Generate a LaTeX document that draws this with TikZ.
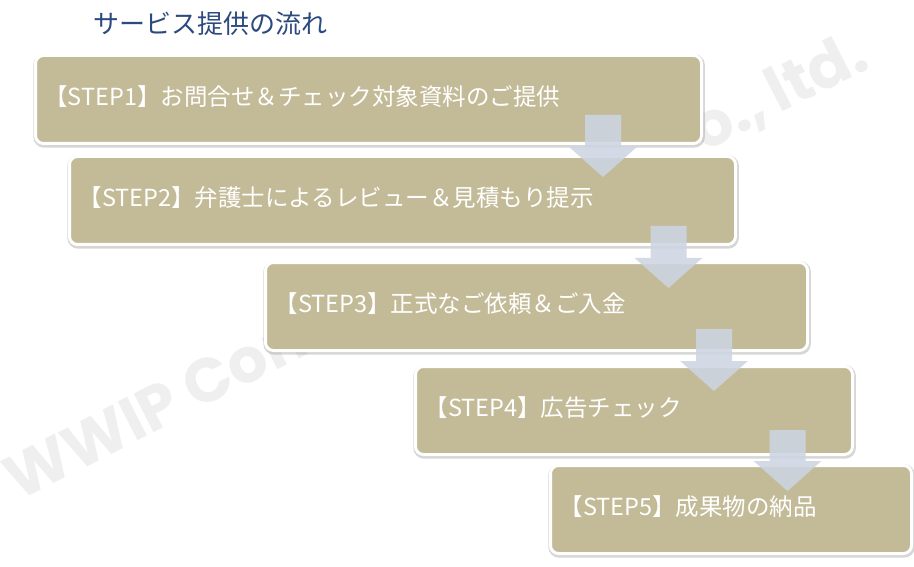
\documentclass[tikz,border=0pt]{standalone}
\usepackage{fontspec}
\setmainfont{Noto Sans CJK JP}
\newfontfamily\wmfont{Poppins}
\usetikzlibrary{arrows.meta,shadows}

\definecolor{boxkhaki}{HTML}{C3BB98}
\definecolor{titleblue}{HTML}{2C4A7E}
\definecolor{arrowgray}{HTML}{CDD5E2}
\definecolor{wmgray}{HTML}{EFEFEF}

\tikzset{
  stepbox/.style={draw=white, line width=3pt, fill=boxkhaki, rounded corners=8pt,
    drop shadow={shadow xshift=0.6pt, shadow yshift=-1.4pt, opacity=0.4,
      fill=black!40, draw=black!40, line width=5.5pt},
    anchor=north west, minimum height=88pt, inner xsep=9pt, align=left,
    text height=20pt, text depth=8pt, text=white,
    font=\fontsize{23.5}{28}\selectfont},
  flowarrow/.style={draw=arrowgray, line width=36pt,
    -{Triangle[width=66pt,length=30pt]}},
  watermark/.style={text=wmgray, inner sep=0pt, rotate=27,
    font=\wmfont\bfseries\fontsize{62}{70}\selectfont},
  titletext/.style={text=titleblue, inner sep=0pt, anchor=west,
    font=\fontsize{26}{30}\selectfont}
}

\begin{document}
\begin{tikzpicture}[x=1pt,y=-1pt]
  \useasboundingbox (0,0) rectangle (914,567);

  % --- watermark ---
  \node[watermark, anchor=base west] (wmleft) at (18,502) {WWIP Com};
  \node[watermark, anchor=base east] (wmright) at (872,67) {o.,\,ltd.};

  % --- title ---
  \node[titletext] (title) at (93,24) {サービス提供の流れ};

  % --- steps ---
  \node[stepbox, minimum width=666pt, text width=648pt] (s1) at (34,54)
    {【STEP1】お問合せ＆チェック対象資料のご提供};
  \node[stepbox, minimum width=666pt, text width=648pt] (s2) at (68,155)
    {【STEP2】弁護士によるレビュー＆見積もり提示};
  \node[stepbox, minimum width=542pt, text width=524pt] (s3) at (264,261)
    {【STEP3】正式なご依頼＆ご入金};
  \node[stepbox, minimum width=437pt, text width=419pt] (s4) at (414,365)
    {【STEP4】広告チェック};
  \node[stepbox, minimum width=361pt, text width=343pt] (s5) at (549,464)
    {【STEP5】成果物の納品};

  % --- arrows ---
  \coordinate (a1) at (603,115);   \coordinate (b1) at (603,177);
  \coordinate (a2) at (668.5,226); \coordinate (b2) at (668.5,288);
  \coordinate (a3) at (714,329);   \coordinate (b3) at (714,391);
  \coordinate (a4) at (787.5,430); \coordinate (b4) at (787.5,491);
  \foreach \i in {1,...,4}{
    \begin{scope}[transparency group, opacity=0.88]
      \draw[flowarrow] (a\i) -- (b\i);
    \end{scope}
  }

\end{tikzpicture}
\end{document}
